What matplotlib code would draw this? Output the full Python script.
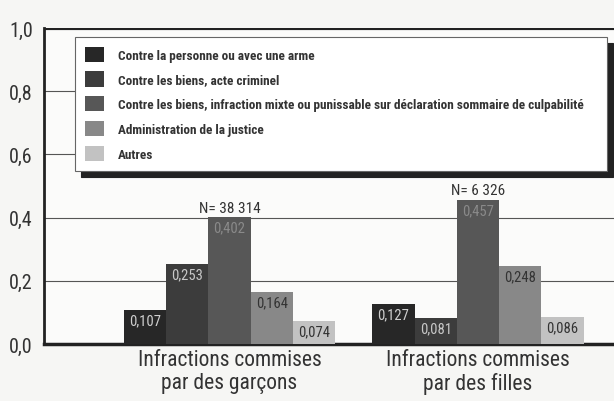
import numpy as np
import matplotlib
matplotlib.use("Agg")
import matplotlib.pyplot as plt

# Share of offences by type, boys vs girls
groups = ["Infractions commises\npar des garçons", "Infractions commises\npar des filles"]
categories = [
    "Contre la personne ou avec une arme",
    "Contre les biens, acte criminel",
    "Contre les biens, infraction mixte ou punissable sur déclaration sommaire de culpabilité",
    "Administration de la justice",
    "Autres",
]
boys = [0.107, 0.253, 0.402, 0.164, 0.074]
girls = [0.127, 0.081, 0.457, 0.248, 0.086]
totals = ["N= 38 314", "N= 6 326"]
yticks = [0.0, 0.2, 0.4, 0.6, 0.8, 1.0]
ytick_labels = ["0,0", "0,2", "0,4", "0,6", "0,8", "1,0"]

colors = ["#272727", "#3c3c3c", "#575757", "#888888", "#c2c2c2"]
label_colors = ["#cfcfcf", "#c8c8c8", "#8a8a8a", "#333333", "#333333"]

plt.rcParams["font.family"] = ["Roboto Condensed", "DejaVu Sans"]

fig = plt.figure(figsize=(6.14, 4.02), dpi=100, facecolor="#f6f6f4")
ax = fig.add_axes([0.0717, 0.142, 0.9283, 0.786])
ax.set_facecolor("#fbfbfa")

width = 0.17
x = np.arange(len(groups))
offsets = (np.arange(len(categories)) - 2) * width
data = np.array([boys, girls])

for i, cat in enumerate(categories):
    ax.bar(x + offsets[i], data[:, i], width, color=colors[i], label=cat, zorder=3)
    for xi, v in zip(x + offsets[i], data[:, i]):
        ax.annotate(f"{v:.3f}".replace(".", ","), (xi, v), xytext=(0, -2.5),
                    textcoords="offset points", ha="center", va="top",
                    fontsize=10.5, color=label_colors[i], zorder=4)

for xi, n, v in zip(x, totals, data[:, 2]):
    ax.annotate(n, (xi, v), xytext=(0, 1.5), textcoords="offset points",
                ha="center", va="bottom", fontsize=11, color="#333333")

ax.set_xlim(-0.746, 1.547)
ax.set_ylim(0, 1.0)
ax.set_yticks(yticks)
ax.set_yticklabels(ytick_labels, fontsize=14.5, color="#333333")
ax.set_xticks(x)
ax.set_xticklabels(groups, fontsize=15.5, color="#333333", linespacing=1.1)
ax.tick_params(axis="x", length=0, pad=4)
ax.tick_params(axis="y", length=0, pad=8)

for yv in yticks[1:-1]:
    ax.axhline(yv, color="#555555", lw=0.8, zorder=1)
ax.axhline(1.0, color="#222222", lw=3, zorder=1)

for s in ["top", "right"]:
    ax.spines[s].set_visible(False)
ax.spines["left"].set_linewidth(2)
ax.spines["left"].set_color("#222222")
ax.spines["bottom"].set_linewidth(2.5)
ax.spines["bottom"].set_color("#222222")

leg = ax.legend(loc="upper left", bbox_to_anchor=(0.054, 0.972, 0.933, 0.0),
                mode="expand", fancybox=False,
                shadow={"ox": 4.5, "oy": -4.5, "color": "#222222", "alpha": 1.0},
                framealpha=1, edgecolor="#666666", facecolor="#ffffff",
                prop={"size": 9.5, "weight": "bold"}, labelcolor="#333333",
                handlelength=1.5, handleheight=1.4, labelspacing=0.72,
                borderpad=0.75, handletextpad=1.0, borderaxespad=0)
leg.get_frame().set_linewidth(0.8)
leg.set_zorder(5)

fig.savefig("out.png", dpi=100, facecolor=fig.get_facecolor())
